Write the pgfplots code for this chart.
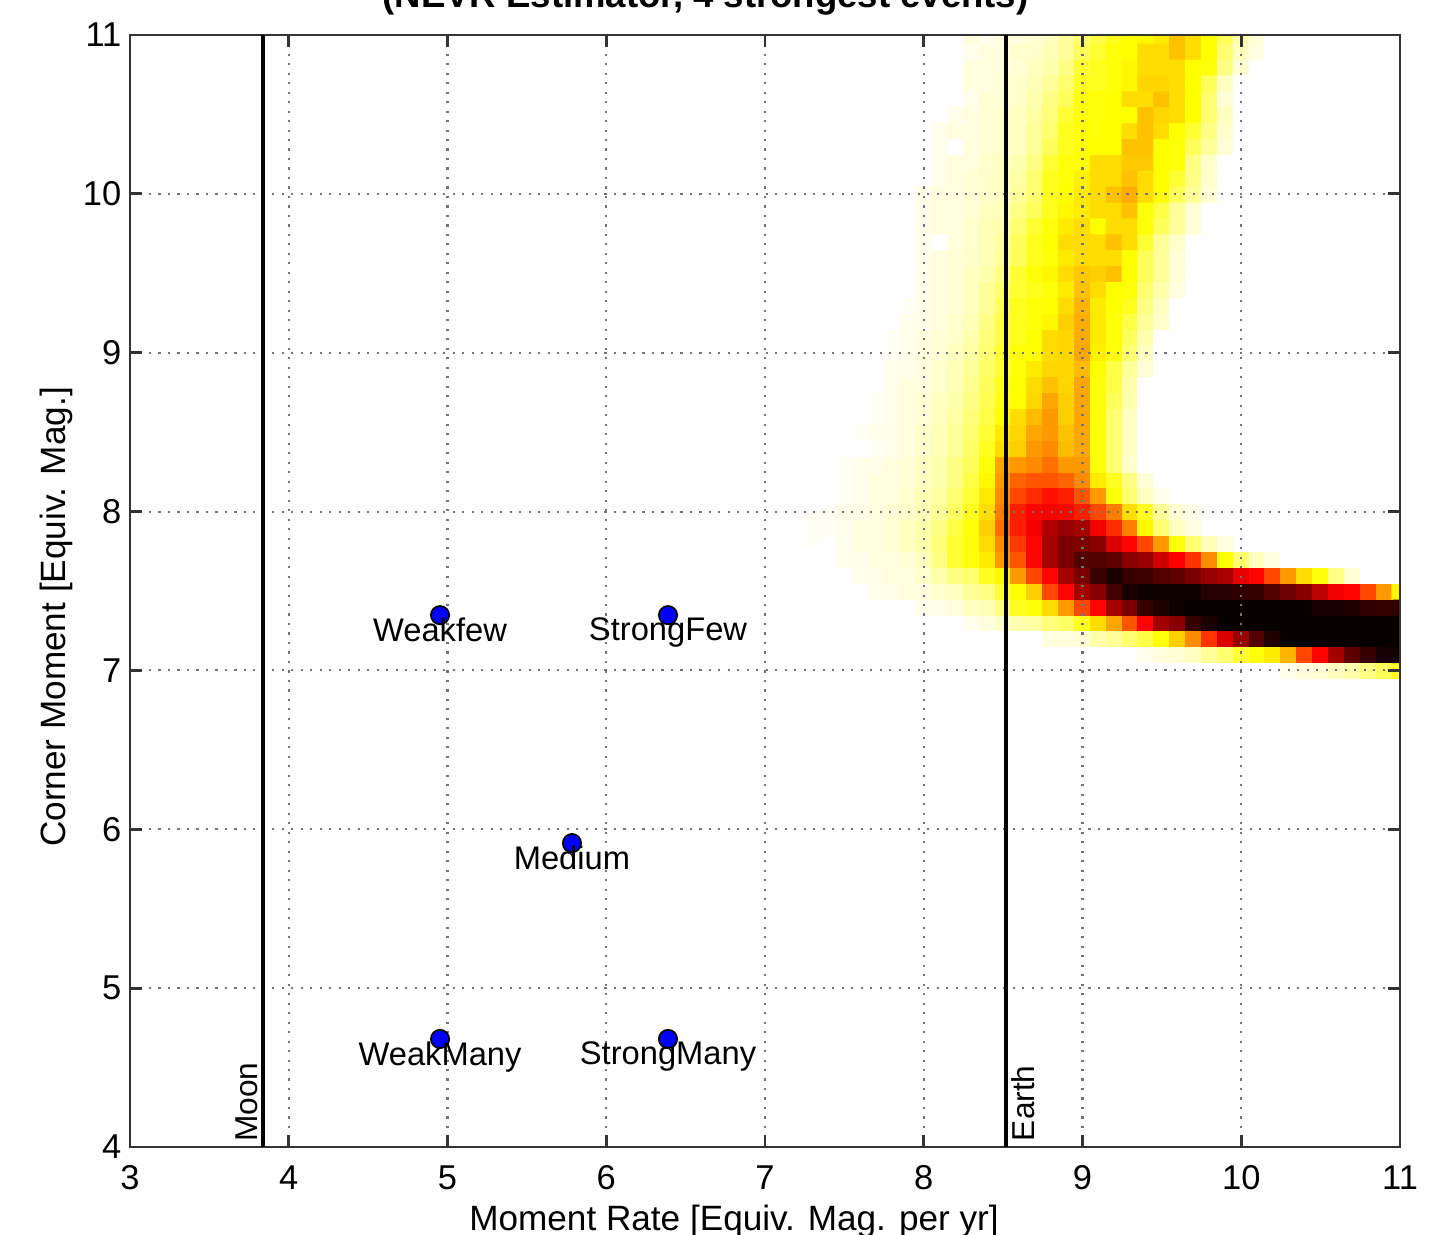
\documentclass[border=0pt]{standalone}
\usepackage{fontspec}
\setmainfont{Liberation Sans}
\usepackage{pgfplots}
\pgfplotsset{compat=1.18}
\usetikzlibrary{calc}

% reversed MATLAB "hot": white -> yellow -> red -> black
\pgfplotsset{colormap={hotr}{rgb255(0cm)=(255,255,255) rgb255(2cm)=(255,255,0) rgb255(5cm)=(255,0,0) rgb255(8cm)=(0,0,0)}}

\begin{document}
\begin{tikzpicture}
\begin{axis}[
  name=ax,
  set layers,
  clip mode=individual,
  scale only axis,
  width=12.7cm, height=11.12cm,
  xmin=3, xmax=11, ymin=4, ymax=11,
  xtick={3,...,11}, ytick={4,...,11},
  xtick pos=both, ytick pos=both,
  tick align=inside,
  major tick length=0.12cm,
  grid=major,
  grid style={black!55, line width=0.6pt, dash pattern=on 0.6pt off 2.1pt},
  axis line style={black!80, line width=0.8pt},
  tick style={black!80, line width=0.8pt},
  colormap name=hotr,
  point meta min=0, point meta max=100,
  /pgf/number format/assume math mode=true,
  tick label style={font=\fontsize{9.8}{11}\selectfont},
  xticklabel style={inner sep=0pt, yshift=-0.18cm},
  yticklabel style={inner sep=0pt, xshift=-0.08cm},
]

% posterior density, cells of 0.1 x 0.1, x = 7.3..11.0 (38 per row), rows y = 7.0..11.0
\addplot[matrix plot*, mesh/cols=38, point meta=explicit, on layer=axis background]
  table[row sep=\\, meta=c, x expr={7.3+0.1*mod(\coordindex,38)}, y expr={7+0.1*floor(\coordindex/38)}] {
c\\
0\\0\\0\\0\\0\\0\\0\\0\\0\\0\\0\\0\\0\\0\\0\\0\\0\\0\\ 0\\0\\0\\0\\0\\0\\0\\0\\0\\0\\0\\ 0\\2\\3\\4\\6\\8\\12\\16\\22\\
0\\0\\0\\0\\0\\0\\0\\0\\0\\0\\0\\0\\0\\0\\0\\0\\0\\0\\ 0\\0\\0\\2\\3\\4\\6\\10\\14\\20\\24\\ 28\\36\\52\\62\\76\\86\\92\\97\\97\\
0\\0\\0\\0\\0\\0\\0\\0\\0\\0\\0\\0\\0\\0\\0\\3\\3\\4\\ 8\\10\\14\\18\\24\\32\\42\\55\\68\\78\\88\\ 95\\99\\99\\99\\99\\99\\99\\99\\99\\
0\\0\\0\\0\\0\\0\\0\\0\\0\\0\\2\\3\\5\\8\\9\\13\\15\\22\\ 30\\38\\50\\62\\76\\80\\92\\96\\99\\99\\99\\ 99\\99\\99\\99\\99\\99\\99\\99\\99\\
0\\0\\0\\0\\0\\0\\0\\2\\2\\3\\6\\7\\12\\22\\24\\30\\40\\52\\ 62\\76\\82\\92\\95\\98\\99\\99\\99\\99\\99\\ 99\\99\\99\\96\\96\\95\\93\\92\\93\\
0\\0\\0\\0\\2\\2\\3\\3\\5\\6\\10\\12\\20\\25\\32\\52\\62\\76\\ 80\\90\\96\\98\\98\\98\\98\\94\\94\\93\\92\\ 88\\84\\80\\72\\64\\62\\52\\40\\26\\
0\\0\\0\\2\\2\\3\\3\\5\\8\\12\\14\\22\\26\\40\\52\\62\\76\\82\\ 92\\96\\92\\91\\88\\86\\82\\78\\75\\66\\62\\ 52\\40\\30\\24\\12\\4\\0\\0\\0\\
0\\0\\2\\2\\3\\3\\4\\6\\12\\20\\24\\28\\40\\50\\62\\76\\82\\88\\ 88\\86\\80\\78\\70\\63\\55\\42\\25\\14\\6\\ 3\\0\\0\\0\\0\\0\\0\\0\\0\\
0\\0\\2\\3\\3\\4\\6\\8\\13\\20\\24\\30\\42\\54\\62\\76\\82\\82\\ 80\\68\\62\\52\\40\\24\\14\\7\\3\\0\\0\\ 0\\0\\0\\0\\0\\0\\0\\0\\0\\
1\\1\\2\\3\\3\\4\\6\\8\\12\\18\\24\\32\\46\\58\\64\\74\\78\\76\\ 64\\56\\44\\26\\14\\6\\3\\0\\0\\0\\0\\ 0\\0\\0\\0\\0\\0\\0\\0\\0\\
1\\1\\2\\2\\3\\4\\5\\7\\10\\15\\22\\30\\44\\58\\62\\63\\62\\58\\ 52\\44\\30\\22\\10\\4\\2\\0\\0\\0\\0\\ 0\\0\\0\\0\\0\\0\\0\\0\\0\\
0\\0\\1\\2\\3\\3\\5\\7\\9\\14\\20\\28\\42\\52\\56\\60\\58\\50\\ 40\\24\\14\\6\\2\\0\\0\\0\\0\\0\\0\\ 0\\0\\0\\0\\0\\0\\0\\0\\0\\
0\\0\\1\\2\\3\\3\\4\\6\\8\\12\\18\\26\\40\\48\\50\\50\\48\\42\\ 28\\22\\12\\4\\0\\0\\0\\0\\0\\0\\0\\ 0\\0\\0\\0\\0\\0\\0\\0\\0\\
0\\0\\1\\2\\2\\3\\4\\6\\8\\12\\16\\24\\38\\40\\42\\46\\40\\40\\ 24\\14\\5\\0\\0\\0\\0\\0\\0\\0\\0\\ 0\\0\\0\\0\\0\\0\\0\\0\\0\\
0\\0\\0\\0\\1\\2\\3\\5\\7\\10\\15\\22\\30\\32\\40\\42\\35\\38\\ 24\\14\\6\\0\\0\\0\\0\\0\\0\\0\\0\\ 0\\0\\0\\0\\0\\0\\0\\0\\0\\
0\\0\\0\\1\\2\\2\\3\\5\\7\\10\\14\\20\\28\\31\\38\\40\\34\\38\\ 24\\14\\6\\0\\0\\0\\0\\0\\0\\0\\0\\ 0\\0\\0\\0\\0\\0\\0\\0\\0\\
0\\0\\0\\0\\1\\2\\3\\4\\6\\9\\13\\18\\25\\30\\35\\40\\32\\38\\ 24\\14\\6\\0\\0\\0\\0\\0\\0\\0\\0\\ 0\\0\\0\\0\\0\\0\\0\\0\\0\\
0\\0\\0\\0\\1\\2\\3\\4\\6\\8\\12\\17\\23\\25\\31\\38\\32\\38\\ 24\\16\\8\\0\\0\\0\\0\\0\\0\\0\\0\\ 0\\0\\0\\0\\0\\0\\0\\0\\0\\
0\\0\\0\\0\\0\\2\\3\\3\\5\\7\\11\\16\\22\\25\\30\\34\\31\\38\\ 24\\18\\8\\0\\0\\0\\0\\0\\0\\0\\0\\ 0\\0\\0\\0\\0\\0\\0\\0\\0\\
0\\0\\0\\0\\0\\2\\2\\3\\5\\7\\10\\15\\20\\24\\28\\31\\31\\35\\ 25\\18\\10\\4\\0\\0\\0\\0\\0\\0\\0\\ 0\\0\\0\\0\\0\\0\\0\\0\\0\\
0\\0\\0\\0\\0\\1\\2\\3\\4\\6\\9\\14\\20\\24\\25\\30\\31\\38\\ 27\\24\\14\\6\\0\\0\\0\\0\\0\\0\\0\\ 0\\0\\0\\0\\0\\0\\0\\0\\0\\
0\\0\\0\\0\\0\\1\\2\\3\\4\\5\\8\\13\\18\\22\\25\\30\\31\\37\\ 28\\24\\16\\8\\0\\0\\0\\0\\0\\0\\0\\ 0\\0\\0\\0\\0\\0\\0\\0\\0\\
0\\0\\0\\0\\0\\0\\2\\2\\3\\5\\7\\12\\18\\22\\24\\26\\32\\37\\ 28\\24\\18\\10\\5\\0\\0\\0\\0\\0\\0\\ 0\\0\\0\\0\\0\\0\\0\\0\\0\\
0\\0\\0\\0\\0\\0\\1\\2\\3\\4\\6\\10\\16\\22\\24\\25\\30\\36\\ 28\\25\\22\\12\\6\\0\\0\\0\\0\\0\\0\\ 0\\0\\0\\0\\0\\0\\0\\0\\0\\
0\\0\\0\\0\\0\\0\\0\\2\\3\\4\\6\\10\\14\\20\\22\\24\\28\\34\\ 30\\25\\24\\14\\8\\3\\0\\0\\0\\0\\0\\ 0\\0\\0\\0\\0\\0\\0\\0\\0\\
0\\0\\0\\0\\0\\0\\0\\2\\3\\4\\6\\8\\12\\20\\24\\26\\30\\33\\ 32\\34\\25\\16\\10\\4\\0\\0\\0\\0\\0\\ 0\\0\\0\\0\\0\\0\\0\\0\\0\\
0\\0\\0\\0\\0\\0\\0\\2\\3\\4\\5\\7\\10\\16\\22\\24\\28\\30\\ 30\\30\\25\\16\\10\\4\\0\\0\\0\\0\\0\\ 0\\0\\0\\0\\0\\0\\0\\0\\0\\
0\\0\\0\\0\\0\\0\\0\\2\\0\\3\\5\\7\\9\\16\\22\\25\\30\\30\\ 30\\34\\30\\20\\10\\5\\0\\0\\0\\0\\0\\ 0\\0\\0\\0\\0\\0\\0\\0\\0\\
0\\0\\0\\0\\0\\0\\0\\2\\3\\3\\5\\7\\8\\14\\20\\24\\28\\30\\ 25\\30\\30\\24\\16\\10\\4\\0\\0\\0\\0\\ 0\\0\\0\\0\\0\\0\\0\\0\\0\\
0\\0\\0\\0\\0\\0\\0\\2\\3\\3\\4\\6\\7\\12\\16\\22\\26\\28\\ 30\\30\\34\\24\\18\\10\\4\\0\\0\\0\\0\\ 0\\0\\0\\0\\0\\0\\0\\0\\0\\
0\\0\\0\\0\\0\\0\\0\\2\\3\\3\\4\\5\\6\\10\\14\\22\\25\\28\\ 30\\34\\37\\30\\25\\16\\10\\4\\0\\0\\0\\ 0\\0\\0\\0\\0\\0\\0\\0\\0\\
0\\0\\0\\0\\0\\0\\0\\0\\2\\3\\4\\5\\6\\9\\14\\22\\24\\27\\ 30\\30\\34\\30\\25\\20\\12\\5\\0\\0\\0\\ 0\\0\\0\\0\\0\\0\\0\\0\\0\\
0\\0\\0\\0\\0\\0\\0\\0\\2\\3\\3\\5\\6\\8\\12\\20\\24\\25\\ 30\\30\\33\\33\\25\\24\\12\\5\\0\\0\\0\\ 0\\0\\0\\0\\0\\0\\0\\0\\0\\
0\\0\\0\\0\\0\\0\\0\\0\\2\\0\\3\\4\\5\\6\\10\\16\\22\\25\\ 25\\25\\34\\34\\25\\24\\16\\10\\4\\0\\0\\ 0\\0\\0\\0\\0\\0\\0\\0\\0\\
0\\0\\0\\0\\0\\0\\0\\0\\2\\3\\3\\4\\5\\6\\10\\14\\22\\25\\ 24\\25\\30\\34\\30\\25\\20\\12\\5\\0\\0\\ 0\\0\\0\\0\\0\\0\\0\\0\\0\\
0\\0\\0\\0\\0\\0\\0\\0\\0\\2\\3\\4\\5\\6\\9\\13\\20\\24\\ 24\\25\\25\\34\\31\\30\\25\\14\\6\\0\\0\\ 0\\0\\0\\0\\0\\0\\0\\0\\0\\
0\\0\\0\\0\\0\\0\\0\\0\\0\\0\\2\\4\\4\\5\\8\\12\\16\\24\\ 24\\25\\30\\30\\34\\30\\25\\14\\4\\0\\0\\ 0\\0\\0\\0\\0\\0\\0\\0\\0\\
0\\0\\0\\0\\0\\0\\0\\0\\0\\0\\3\\3\\4\\5\\7\\10\\14\\22\\ 22\\24\\26\\31\\31\\30\\25\\16\\6\\0\\0\\ 0\\0\\0\\0\\0\\0\\0\\0\\0\\
0\\0\\0\\0\\0\\0\\0\\0\\0\\0\\3\\3\\3\\4\\6\\8\\12\\20\\ 22\\24\\26\\30\\30\\30\\25\\24\\12\\4\\0\\ 0\\0\\0\\0\\0\\0\\0\\0\\0\\
0\\0\\0\\0\\0\\0\\0\\0\\0\\0\\2\\3\\3\\5\\5\\7\\10\\16\\ 20\\24\\25\\30\\30\\34\\30\\25\\14\\6\\3\\ 0\\0\\0\\0\\0\\0\\0\\0\\0\\
0\\0\\0\\0\\0\\0\\0\\0\\0\\0\\3\\2\\3\\3\\4\\6\\10\\14\\ 18\\22\\25\\26\\28\\34\\30\\25\\16\\8\\4\\ 0\\0\\0\\0\\0\\0\\0\\0\\0\\
};

% Moon and Earth reference lines
\addplot[black, line width=1.3pt] coordinates {(3.838,4) (3.838,11)};
\addplot[black, line width=1.3pt] coordinates {(8.518,4) (8.518,11)};
\node[rotate=90, anchor=south west, inner sep=1.3pt, font=\fontsize{9}{10}\selectfont] at (axis cs:3.838,4) {Moon};
\node[rotate=90, anchor=north west, inner sep=1.5pt, font=\fontsize{9}{10}\selectfont] at (axis cs:8.518,4) {Earth};

% scenarios
\addplot[only marks, mark=*, mark size=2.6pt,
  mark options={fill=blue, draw=black, line width=0.5pt},
  point meta=explicit symbolic, nodes near coords,
  nodes near coords align={below},
  nodes near coords style={inner sep=0.6pt, text=black, font=\fontsize{9.3}{11}\selectfont}]
  table[meta=label] {
x y label
4.953 7.348 Weakfew
6.389 7.348 StrongFew
5.784 5.913 Medium
4.953 4.680 WeakMany
6.389 4.680 StrongMany
};
\end{axis}

\node[anchor=base, font=\bfseries\fontsize{10.4}{12}\selectfont] at ($(ax.north west)+(5.755cm,0.27cm)$) {(NEVR Estimator, 4 strongest events)};
\node[anchor=base, font=\fontsize{10}{12}\selectfont] at ($(ax.south west)+(6.04cm,-0.83cm)$) {Moment Rate [Equiv. Mag. per yr]};
\node[anchor=base, rotate=90, font=\fontsize{10}{12}\selectfont] at ($(ax.south west)+(-0.65cm,5.30cm)$) {Corner Moment [Equiv. Mag.]};

\pgfresetboundingbox
\useasboundingbox ($(ax.south west)+(-1.30cm,-0.87cm)$) rectangle ($(ax.north east)+(0.30cm,0.35cm)$);
\end{tikzpicture}
\end{document}
